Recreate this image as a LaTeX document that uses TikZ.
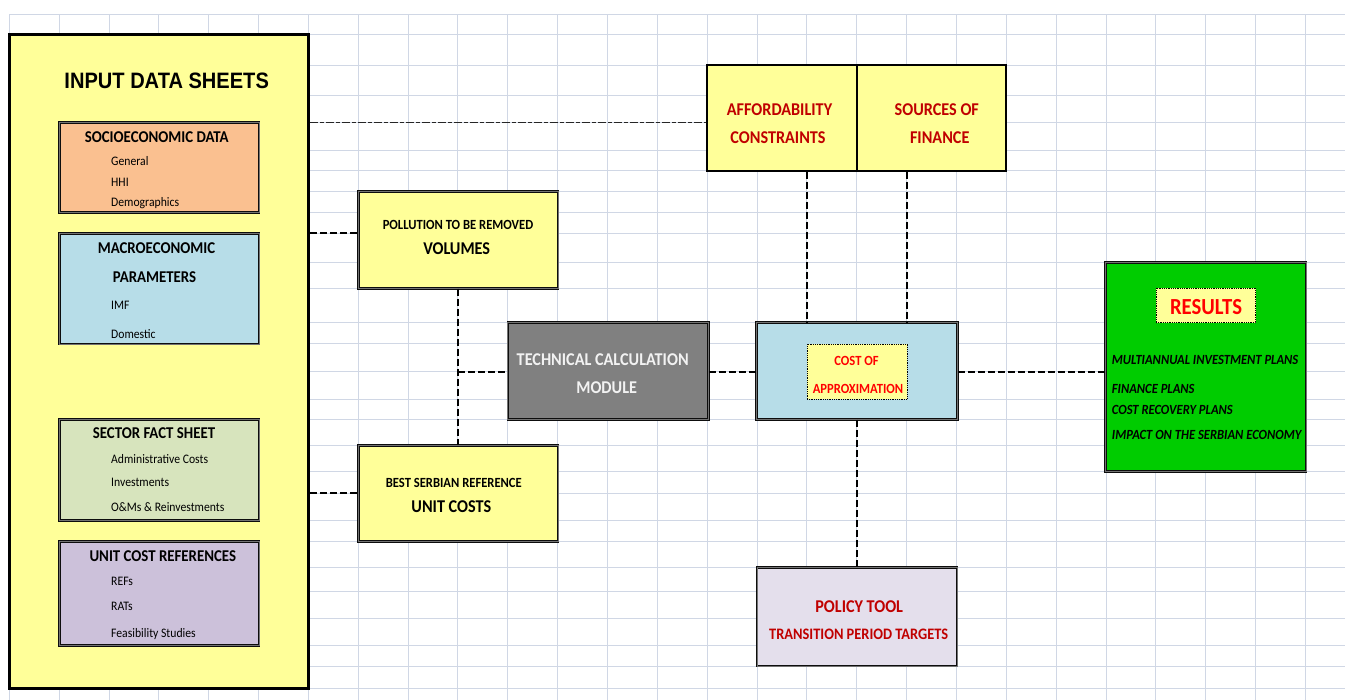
\documentclass[tikz,border=0pt]{standalone}
\usepackage{fontspec}
\newfontfamily\calf[FakeStretch=0.9]{Carlito}
\newfontfamily\arif[FakeStretch=0.9]{Liberation Sans}
\newcommand\fsz[1]{\fontsize{#1}{#1}\selectfont}
\definecolor{gridc}{HTML}{D0D7E5}
\definecolor{cyel}{HTML}{FFFF99}
\definecolor{corange}{HTML}{FAC090}
\definecolor{cblue}{HTML}{B7DDE8}
\definecolor{cgreen}{HTML}{D7E4BD}
\definecolor{cpurple}{HTML}{CCC1DA}
\definecolor{cgray}{HTML}{808080}
\definecolor{clav}{HTML}{E4DFEC}
\definecolor{cres}{HTML}{00CC00}
\definecolor{dred}{HTML}{C00000}
\definecolor{bred}{HTML}{FF0000}
\begin{document}
\begin{tikzpicture}[x=1pt,y=-1pt,
  gline/.style={draw=gridc, line width=1pt},
  box/.style={rectangle, inner sep=0pt},
  dbl/.style={draw=black!95, double=black!55, double distance=0.9pt, line width=0.9pt},
  sgl/.style={draw=black, line width=2pt},
  dotbox/.style={draw=black, line width=0.8pt, densely dotted, fill=cyel},
  conn/.style={draw=black, line width=2pt, dash pattern=on 7pt off 3pt},
  thinconn/.style={draw=black!85, line width=1.3pt, dash pattern=on 8pt off 2pt on 4pt off 2pt},
  t/.style={inner sep=0pt, anchor=base},
  tl/.style={inner sep=0pt, anchor=base west},
  subtitle/.style={t, font=\calf\bfseries\fsz{16.5}},
  item/.style={tl, font=\calf\fsz{13}},
  hdl/.style={t, font=\calf\bfseries\fsz{18}},
  sml/.style={t, font=\calf\bfseries\fsz{14}},
  resitem/.style={tl, font=\calf\bfseries\itshape\fsz{14}}
]
\useasboundingbox[fill=white] (0,0) rectangle (1345,700);
% spreadsheet grid
\foreach \k in {0,...,26} \draw[gline] ({9.3+49.85*\k},14.7) -- ({9.3+49.85*\k},700);
\foreach \yy in {14.7,34.3,65.3,95.3,122.7,150.3,170.7,191.7,212.3,233.3,262.3,288.3,322.7,344,371.7,399.3,419.3,445.3,471.3,493.3,520.3,541.3,567.3,591.7,618.3,645.3,666,688.3}
  \draw[gline] (9.3,\yy) -- (1345,\yy);

% boxes
\node[box, fill=cyel, draw=black, line width=3pt, minimum width=299.1pt, minimum height=654pt] (input) at (158.85,361.3) {};
\node[box, dbl, fill=corange, minimum width=199.8pt, minimum height=89.6pt] (socio) at (159.1,167.5) {};
\node[box, dbl, fill=cblue, minimum width=199.8pt, minimum height=110.7pt] (macro) at (159.1,288.65) {};
\node[box, dbl, fill=cgreen, minimum width=199.8pt, minimum height=101pt] (sector) at (159.1,469.8) {};
\node[box, dbl, fill=cpurple, minimum width=199.8pt, minimum height=104pt] (ucref) at (159.1,593.3) {};

\node[box, dbl, fill=cyel, minimum width=199.7pt, minimum height=96.6pt] (poll) at (458.15,240) {};
\node[box, dbl, fill=cyel, minimum width=199.7pt, minimum height=96pt] (units) at (458.15,493.3) {};
\node[box, sgl, fill=cyel, minimum width=149.6pt, minimum height=105.4pt] (afford) at (782,118) {};
\node[box, sgl, fill=cyel, minimum width=149.5pt, minimum height=105.4pt] (sources) at (931.55,118) {};
\node[box, dbl, fill=cgray, minimum width=200.6pt, minimum height=96.6pt] (tech) at (608.2,371) {};
\node[box, dbl, fill=cblue, minimum width=200.5pt, minimum height=96.6pt] (cost) at (857,371) {};
\node[box, dotbox, minimum width=100pt, minimum height=55.3pt] (costin) at (857,371.65) {};
\node[box, dbl, fill=cres, minimum width=200.5pt, minimum height=209pt] (res) at (1205.75,366.8) {};
\node[box, dotbox, minimum width=99.7pt, minimum height=34.4pt] (resin) at (1205.75,305.5) {};
\node[box, dbl, fill=clav, minimum width=200pt, minimum height=98.7pt] (policy) at (857,616.65) {};

% connectors
\coordinate (j1) at (0,122.7);
\coordinate (j2) at (0,233.3);
\coordinate (jv) at (458.15,371.7);
\coordinate (a1) at (806.9,0);
\coordinate (a2) at (906.6,0);
\draw[thinconn] (input.east |- j1) -- (afford.west |- j1);
\draw[conn] (input.east |- j2) -- (poll.west |- j2);
\draw[conn] (input.east |- units.west) -- (units.west);
\draw[conn] (poll.south) -- (units.north);
\draw[conn] (jv) -- (tech.west |- jv);
\draw[conn] (tech.east |- jv) -- (cost.west |- jv);
\draw[conn] (cost.east |- jv) -- (res.west |- jv);
\draw[conn] (afford.south -| a1) -- (cost.north -| a1);
\draw[conn] (sources.south -| a2) -- (cost.north -| a2);
\draw[conn] (cost.south) -- (policy.north);

% texts: input data sheets
\node[t, font=\arif\bfseries\fsz{22.3}] (ttl) at (166.7,88.9) {INPUT DATA SHEETS};
\node[subtitle] (s1t) at (156.7,143) {SOCIOECONOMIC DATA};
\node[item] (s1a) at (111,165.5) {General};
\node[item] (s1b) at (111,186.5) {HHI};
\node[item] (s1c) at (111,207) {Demographics};
\node[subtitle] (s2t) at (156.5,254) {MACROECONOMIC};
\node[subtitle] (s2u) at (154.5,282.7) {PARAMETERS};
\node[item] (s2a) at (111,310) {IMF};
\node[item] (s2b) at (111,339) {Domestic};
\node[subtitle] (s3t) at (154,439) {SECTOR FACT SHEET};
\node[item] (s3a) at (111,463.3) {Administrative Costs};
\node[item] (s3b) at (111,487) {Investments};
\node[item] (s3c) at (111,512) {O\&Ms \& Reinvestments};
\node[subtitle] (s4t) at (162.8,561.7) {UNIT COST REFERENCES};
\node[item] (s4a) at (111,585.7) {REFs};
\node[item] (s4b) at (111,610) {RATs};
\node[item] (s4c) at (111,637.3) {Feasibility Studies};

% middle boxes
\node[sml] (p1) at (458,229.3) {POLLUTION TO BE REMOVED};
\node[hdl] (p2) at (456.7,255) {VOLUMES};
\node[sml] (u1) at (453.8,487.7) {BEST SERBIAN REFERENCE};
\node[hdl] (u2) at (451.3,512.7) {UNIT COSTS};
\node[hdl, text=dred] (f1) at (779.5,116) {AFFORDABILITY};
\node[hdl, text=dred] (f2) at (778,143.7) {CONSTRAINTS};
\node[hdl, text=dred] (g1) at (936.8,116) {SOURCES OF};
\node[hdl, text=dred] (g2) at (939.7,143.7) {FINANCE};
\node[hdl, text=white!95!black] (m1) at (602.7,365.7) {TECHNICAL CALCULATION};
\node[hdl, text=white!95!black] (m2) at (606.7,393.3) {MODULE};
\node[sml, text=bred] (c1) at (856.5,365.7) {COST OF};
\node[sml, text=bred] (c2) at (858,394) {APPROXIMATION};
\node[t, font=\calf\bfseries\fsz{23}, text=bred] (r0) at (1206,315) {RESULTS};
\node[resitem] (r1) at (1111.7,365) {MULTIANNUAL INVESTMENT PLANS};
\node[resitem] (r2) at (1111.7,393.3) {FINANCE PLANS};
\node[resitem] (r3) at (1111.7,415) {COST RECOVERY PLANS};
\node[resitem] (r4) at (1111.7,440) {IMPACT ON THE SERBIAN ECONOMY};
\node[hdl, text=dred] (o1) at (859.2,612.3) {POLICY TOOL};
\node[t, font=\calf\bfseries\fsz{16}, text=dred] (o2) at (858.7,639.3) {TRANSITION PERIOD TARGETS};
\end{tikzpicture}
\end{document}
